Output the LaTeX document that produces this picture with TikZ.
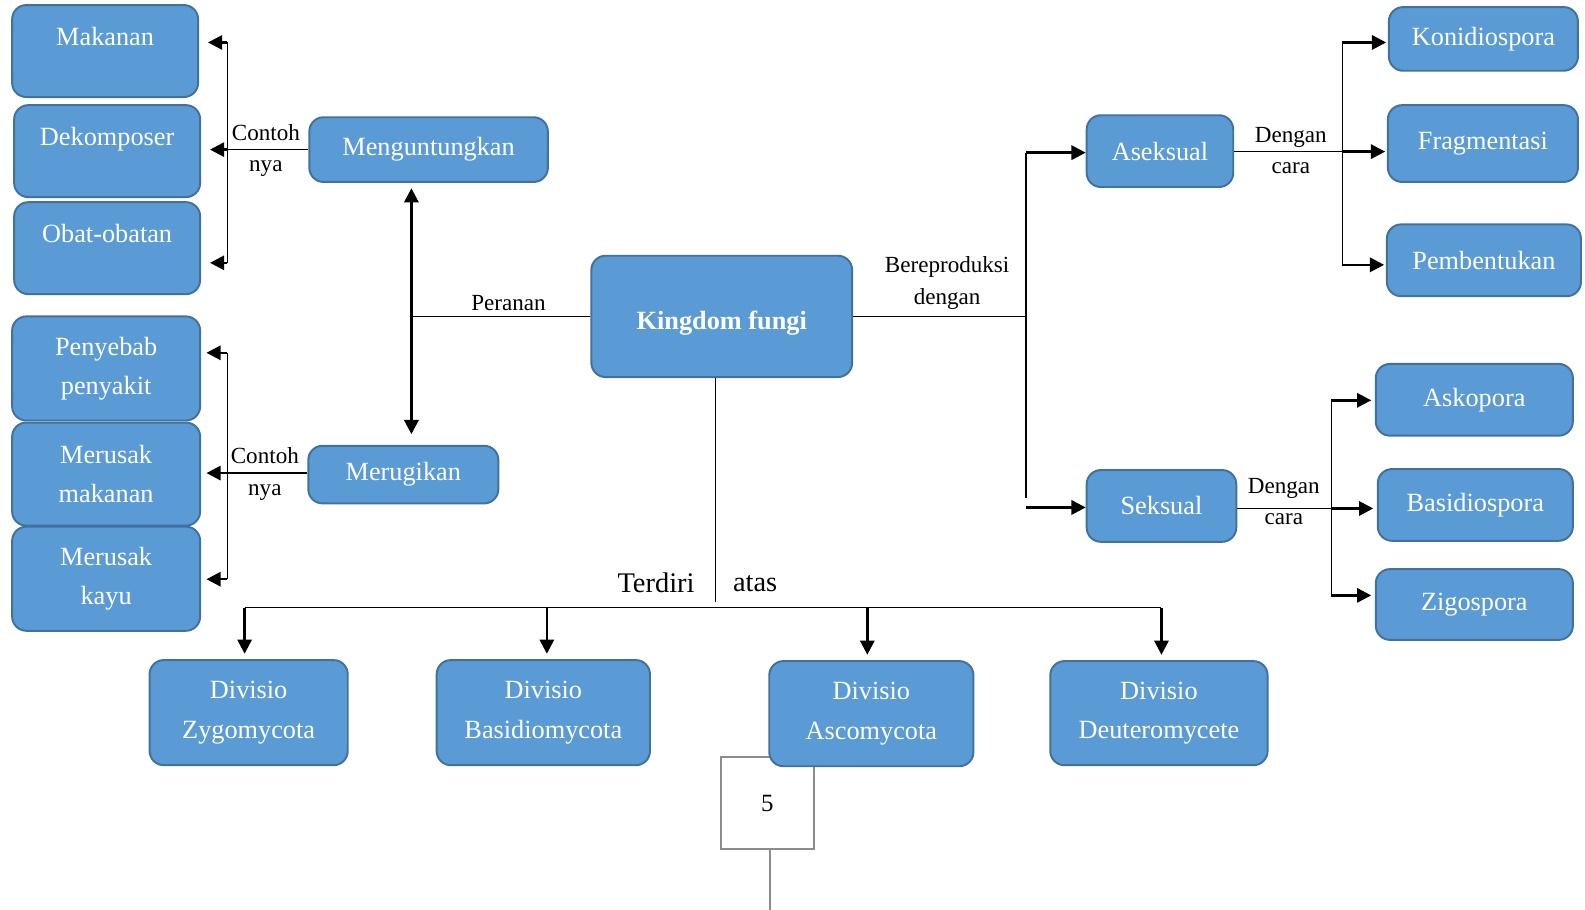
\documentclass[tikz,border=0pt]{standalone}
\usepackage{fontspec}
\setmainfont{Liberation Serif}
\usepackage{tikz}
\usepackage{xcolor}
\usetikzlibrary{arrows.meta}

\definecolor{boxfill}{RGB}{91,155,213}
\definecolor{boxline}{RGB}{65,113,156}
\definecolor{pagegray}{RGB}{140,140,140}

\begin{document}
\begin{tikzpicture}[x=0.02cm, y=-0.02cm,
	box/.style={rectangle, rounded corners=8pt, draw=boxline, line width=1.1pt, fill=boxfill, text=white, align=center, inner sep=0pt, font=\fontsize{14.8}{22}\selectfont},
	sz/.style 2 args={minimum width=#1*0.02cm, minimum height=#2*0.02cm},
	lbl/.style={align=center, inner sep=0pt, font=\fontsize{13}{17.6}\selectfont},
	link/.style={line width=0.7pt},
	arr/.style={line width=1.4pt, -{Triangle[length=8pt, width=8pt]}},
	]
	\useasboundingbox (0,0) rectangle (1568,900);

	% pusat
	\node[box, sz={258}{120}] (king) at (714,313) {\raisebox{-0.26cm}[0pt][0pt]{\textbf{Kingdom fungi}}};

	% peranan
	\node[box, sz={236}{64}]  (ung)  at (424,148)   {Menguntungkan};
	\node[box, sz={188}{57}]  (rug)  at (399,469.5) {\raisebox{-0.08cm}{Merugikan}};
	\node[box, sz={184}{91}]  (mak)  at (104,50.5)  {Makanan\\[-12pt]\strut};
	\node[box, sz={184}{91}]  (dek)  at (106,149.5) {Dekomposer\\[-12pt]\strut};
	\node[box, sz={184}{91}]  (obat) at (106,245.5) {Obat-obatan\\[-12pt]\strut};
	\node[box, sz={186}{103}] (peny) at (105,364.5) {Penyebab\\penyakit};
	\node[box, sz={186}{102}] (mmak) at (105,469)   {Merusak\\makanan};
	\node[box, sz={186}{103}] (mkay) at (105,572.5) {Merusak\\kayu};

	% reproduksi
	\node[box, sz={145}{71}] (asek) at (1147.5,149.5) {Aseksual};
	\node[box, sz={148}{71}] (seks) at (1149,500.5)   {Seksual};
	\node[box, sz={187}{63}] (koni) at (1467.5,38.5)  {Konidiospora};
	\node[box, sz={188}{76}] (frag) at (1467,142)     {Fragmentasi};
	\node[box, sz={192}{71}] (pemb) at (1468,257.5)   {Pembentukan};
	\node[box, sz={195}{71}] (asko) at (1458.5,395.5) {Askopora};
	\node[box, sz={193}{71}] (basi) at (1459.5,499.5) {Basidiospora};
	\node[box, sz={195}{70}] (zigo) at (1458.5,598)   {Zigospora};

	% divisio
	\node[draw=pagegray, line width=1pt, fill=white, minimum width=92*0.02cm, minimum height=91*0.02cm, font=\fontsize{14}{17}\selectfont] (five) at (759,794.5) {5};
	\node[box, sz={196}{104}] (zygo) at (246,705)    {Divisio\\Zygomycota};
	\node[box, sz={211}{104}] (basm) at (537.5,705)  {Divisio\\Basidiomycota};
	\node[box, sz={202}{104}] (ascm) at (862,706)    {Divisio\\Ascomycota};
	\node[box, sz={215}{103}] (deut) at (1146.5,705.5) {Divisio\\Deuteromycete};

	% label
	\node[lbl] (l1) at (503,300)  {Peranan};
	\node[lbl] (l2) at (263,149)  {Contoh\\nya};
	\node[lbl] (l3) at (262,469)  {Contoh\\nya};
	\node[lbl] (l4) at (937,280)  {Bereproduksi\\dengan};
	\node[lbl] (l5) at (1277,149) {Dengan\\cara};
	\node[lbl] (l6) at (1270,496) {Dengan\\cara};
	\node[lbl, font=\fontsize{16}{19}\selectfont] (l7) at (649,577) {Terdiri};
	\node[lbl, font=\fontsize{16}{19}\selectfont] (l8) at (747,577) {atas};

	% peranan
	\coordinate (p1) at (407,313);
	\draw[link] (king.west) -- (p1);
	\draw[line width=1.6pt, {Triangle[length=8pt, width=8pt]}-{Triangle[length=8pt, width=8pt]}, shorten <=3pt, shorten >=6pt] (p1 |- ung.south) -- (p1 |- rug.north);

	\coordinate (u1) at (225,42);
	\coordinate (u2) at (225,148);
	\coordinate (u3) at (225,260);
	\draw[link] (u1) -- (u3);
	\draw[link] (ung.west) -- (u2);
	\draw[arr, shorten >=5pt] (u1) -- (mak.east |- u1);
	\draw[arr, shorten >=5pt] (u2) -- (dek.east |- u2);
	\draw[arr, shorten >=5pt] (u3) -- (obat.east |- u3);

	\coordinate (g1) at (225,349);
	\coordinate (g2) at (225,468);
	\coordinate (g3) at (225,573);
	\draw[link] (g1) -- (g3);
	\draw[link] (rug.west |- g2) -- (g2);
	\draw[arr, shorten >=3pt] (g1) -- (peny.east |- g1);
	\draw[arr, shorten >=3pt] (g2) -- (mmak.east |- g2);
	\draw[arr, shorten >=3pt] (g3) -- (mkay.east |- g3);

	% reproduksi
	\coordinate (r0) at (1015,313);
	\coordinate (r1) at (1015,151);
	\coordinate (r2) at (1015,493);
	\coordinate (r3) at (1015,502);
	\draw[link] (king.east) -- (r0);
	\draw[link] (r1) -- (r2);
	\draw[arr] (r1) -- (asek.west |- r1);
	\draw[arr] (r3) -- (seks.west |- r3);

	\coordinate (a1) at (1328,42);
	\coordinate (a2) at (1328,150);
	\coordinate (a3) at (1328,262);
	\draw[link] (a1) -- (a3);
	\draw[link] (asek.east |- a2) -- (a2);
	\draw[arr, shorten >=1pt] (a1) -- (koni.west |- a1);
	\draw[arr, shorten >=1pt] (a2) -- (frag.west |- a2);
	\draw[arr, shorten >=1pt] (a3) -- (pemb.west |- a3);

	\coordinate (s1) at (1317,396);
	\coordinate (s2) at (1317,503);
	\coordinate (s3) at (1317,589);
	\draw[link] (s1) -- (s3);
	\draw[link] (seks.east |- s2) -- (s2);
	\draw[arr, shorten >=2pt] (s1) -- (asko.west |- s1);
	\draw[arr, shorten >=2pt] (s2) -- (basi.west |- s2);
	\draw[arr, shorten >=2pt] (s3) -- (zigo.west |- s3);

	% divisio
	\coordinate (t1) at (708,596);
	\draw[link] (king.south -| t1) -- (t1);
	\coordinate (d1) at (242,601);
	\coordinate (d2) at (541,601);
	\coordinate (d3) at (858,601);
	\coordinate (d4) at (1149,601);
	\draw[link] (d1) -- (d4);
	\draw[arr, shorten >=3pt] (d1) -- (d1 |- zygo.north);
	\draw[arr, shorten >=3pt] (d2) -- (d2 |- basm.north);
	\draw[arr, shorten >=3pt] (d3) -- (d3 |- ascm.north);
	\draw[arr, shorten >=3pt] (d4) -- (d4 |- deut.north);

	\coordinate (h1) at (762,900);
	\draw[pagegray, line width=1pt] (five.south -| h1) -- (h1);
\end{tikzpicture}
\end{document}
